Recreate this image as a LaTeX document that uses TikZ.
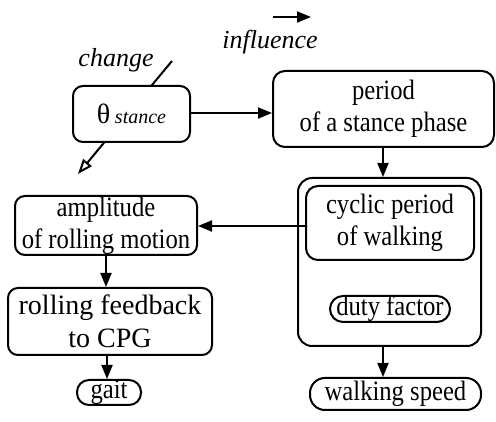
\documentclass[tikz,border=0pt]{standalone}
\usepackage{fontspec}
\setmainfont[FakeStretch=0.88]{Liberation Serif}
\newfontfamily\wideserif{Liberation Serif}
\usetikzlibrary{arrows.meta}
\tikzset{
  box/.style={draw, line width=2pt, rounded corners=10pt, align=center, inner sep=0pt},
  link/.style={draw, line width=2pt, -{Triangle[length=14pt,width=11pt]}},
}
\begin{document}
\begin{tikzpicture}[x=1pt,y=-1pt,font=\fontsize{28}{32}\selectfont]
\useasboundingbox (0,0) rectangle (496,422);

% legend
\coordinate (l1) at (273,17);
\coordinate (l2) at (311,17);
\path[link] (l1) -- (l2);
\node (infl) at (270,42) {\wideserif\fontsize{26}{30}\selectfont\itshape influence};
\node (chg) at (116,60) {\wideserif\fontsize{26}{30}\selectfont\itshape change};

% change of the stance angle
\coordinate (c1) at (172,61);
\coordinate (c2) at (78,174);
\path[draw, line width=2pt, -{Triangle[open,length=15pt,width=11pt]}] (c1) -- (c2);

\node[box, fill=white, minimum width=117pt, minimum height=56pt] (th) at (131.5,114) {\wideserif θ\,{\fontsize{20}{24}\selectfont\itshape stance}};
\node[box, rounded corners=12pt, minimum width=221pt, minimum height=76pt] (per) at (383.5,109) {period\\of a stance phase};
\node[box, rounded corners=14pt, minimum width=183pt, minimum height=168pt] (walk) at (389.5,262) {};
\node[box, rounded corners=12pt, minimum width=168pt, minimum height=74pt] (cyc) at (390,223) {cyclic period\\of walking};
\node[box, rounded corners=13pt, minimum width=120pt, minimum height=26pt] (duty) at (390,309) {duty factor};
\node[box, minimum width=182pt, minimum height=59pt] (amp) at (106,225.5) {amplitude\\of rolling motion};
\node[box, minimum width=204pt, minimum height=67pt, font=\wideserif\fontsize{28}{33}\selectfont] (roll) at (110,321.5) {rolling feedback\\to CPG};
\node[box, rounded corners=12pt, minimum width=64pt, minimum height=25pt] (gait) at (109,392.5) {gait};
\node[box, rounded corners=15pt, minimum width=171pt, minimum height=32pt] (spd) at (395.5,394) {walking speed};

\path[link] (th.east |- 0,113) -- (per.west |- 0,113);
\path[link] (per.south -| 383,0) -- (walk.north -| 383,0);
\path[link] (cyc.west |- 0,226) -- (amp.east |- 0,226);
\path[link] (amp.south) -- (amp.south |- roll.north);
\path[link] (roll.south -| 107,0) -- (gait.north -| 107,0);
\path[link] (walk.south -| 383,0) -- (spd.north -| 383,0);
\end{tikzpicture}
\end{document}
